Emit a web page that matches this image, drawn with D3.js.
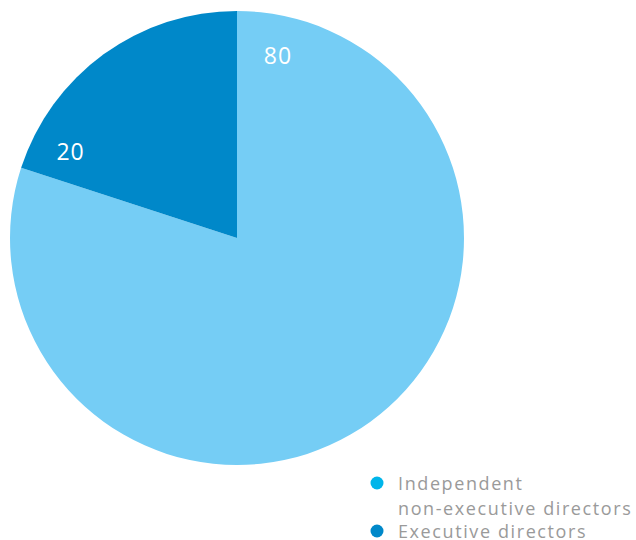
<!DOCTYPE html>
<html>
<head>
<meta charset="utf-8">
<script src="https://cdn.jsdelivr.net/npm/d3@7"></script>
<style>
  html, body { margin: 0; padding: 0; background: #ffffff; }
  svg { display: block; }
</style>
</head>
<body>
<svg id="chart" width="636" height="540"></svg>
<script>
// Board composition (%)
const categories = ["Independent non-executive directors", "Executive directors"];
const values = [80, 20];
const sliceColors = ["#75cdf5", "#0088c9"];
const legendColors = ["#00b5ea", "#0088c9"];
const legendLines = [["Independent", "non-executive directors"], ["Executive directors"]];

const svg = d3.select("#chart");
const cx = 237, cy = 238, r = 227;
const fontFamily = "'Open Sans', 'Noto Sans', sans-serif";

const pie = d3.pie().sort(null).value(d => d);
const arcs = pie(values);
const arc = d3.arc().innerRadius(0).outerRadius(r);

const g = svg.append("g").attr("transform", `translate(${cx},${cy})`);
g.selectAll("path.slice")
  .data(arcs)
  .join("path")
  .attr("class", "slice")
  .attr("d", arc)
  .attr("fill", (d, i) => sliceColors[i]);

// Value labels sit near the rim, a little past each slice's start angle
const labelOffset = [0.22, 0.17];
const labelRadius = 188;
g.selectAll("text.value")
  .data(arcs)
  .join("text")
  .attr("class", "value")
  .attr("x", (d, i) => Math.sin(d.startAngle + labelOffset[i]) * labelRadius)
  .attr("y", (d, i) => -Math.cos(d.startAngle + labelOffset[i]) * labelRadius)
  .attr("text-anchor", "middle")
  .attr("dominant-baseline", "central")
  .attr("fill", "#ffffff")
  .attr("font-family", fontFamily)
  .attr("font-weight", 500)
  .attr("font-size", 23)
  .attr("letter-spacing", 1)
  .text(d => d.data);

// Legend
const legend = svg.append("g").attr("transform", "translate(377,483)");
let yOff = 0;
legendLines.forEach((lines, i) => {
  legend.append("circle")
    .attr("cx", 0).attr("cy", yOff)
    .attr("r", 6.5)
    .attr("fill", legendColors[i]);
  lines.forEach((t, j) => {
    legend.append("text")
      .attr("x", 21)
      .attr("y", yOff + j * 24.5)
      .attr("dominant-baseline", "central")
      .attr("fill", "#9a9a9a")
      .attr("font-family", fontFamily)
      .attr("font-weight", 500)
      .attr("font-size", 18)
      .attr("letter-spacing", 1.6)
      .text(t);
  });
  yOff += lines.length * 24;
});
</script>
</body>
</html>
